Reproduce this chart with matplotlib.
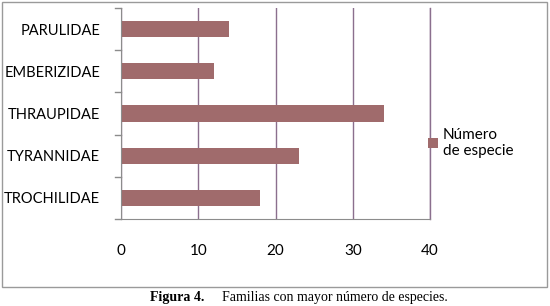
import matplotlib
matplotlib.use('agg')
import matplotlib.pyplot as plt
from matplotlib.patches import Rectangle

# data (top to bottom as drawn)
familias = ["PARULIDAE", "EMBERIZIDAE", "THRAUPIDAE", "TYRANNIDAE", "TROCHILIDAE"]
especies = [14, 12, 34, 23, 18]
x_ticks = [0, 10, 20, 30, 40]

bar_color = "#A06B6C"
grid_color = "#8B6F8E"
axis_color = "#8C8C8C"

plt.rcParams["font.family"] = ["Lato", "DejaVu Sans"]

fig = plt.figure(figsize=(5.5, 3.06), dpi=100)
ax = fig.add_axes([121 / 550, 1 - 219 / 306, 309 / 550, 211 / 306])

pos = list(range(len(familias)))[::-1]
bars = ax.barh(pos, especies, height=0.38, color=bar_color, label="Número\nde especie")

ax.set_xlim(0, 40)
ax.set_ylim(-0.5, len(familias) - 0.5)
ax.set_xticks(x_ticks)
ax.set_yticks(pos)
ax.set_yticklabels(familias, fontsize=10.5)
ax.set_xticklabels([str(t) for t in x_ticks], fontsize=11)
ax.tick_params(axis="y", length=0, pad=15)
ax.tick_params(axis="x", length=0, pad=18)

# boundary ticks on the category axis
for b in [i - 0.5 for i in range(len(familias) + 1)]:
    ax.plot([-0.02, 0], [b, b], transform=ax.get_yaxis_transform(),
            color=axis_color, lw=1, clip_on=False)

ax.grid(axis="x", color=grid_color, lw=1)
ax.axvline(40, color=grid_color, lw=1, clip_on=False)
ax.set_axisbelow(True)
for s in ["top", "right"]:
    ax.spines[s].set_visible(False)
ax.spines["left"].set_color(axis_color)
ax.spines["bottom"].set_color(axis_color)

leg = ax.legend(loc="upper left", bbox_to_anchor=(0.975, 0.46), frameon=False,
                fontsize=11, handlelength=0.65, handleheight=0.65,
                handletextpad=0.3, borderaxespad=0)
for t in leg.get_texts():
    t.set_linespacing(1.15)

# outer chart border
fig.patches.append(Rectangle((2 / 550, 1 - 287 / 306), 545 / 550, 285 / 306,
                             transform=fig.transFigure, fill=False,
                             edgecolor="#9A9A9A", lw=1))

fig.text(150 / 550, 1 - 297 / 306, "Figura 4.", fontsize=10, fontweight="bold",
         family="Liberation Serif", va="center", ha="left")
fig.text(222 / 550, 1 - 297 / 306, "Familias con mayor número de especies.",
         fontsize=10, family="Liberation Serif", va="center", ha="left")

fig.savefig("out.png", dpi=100)
